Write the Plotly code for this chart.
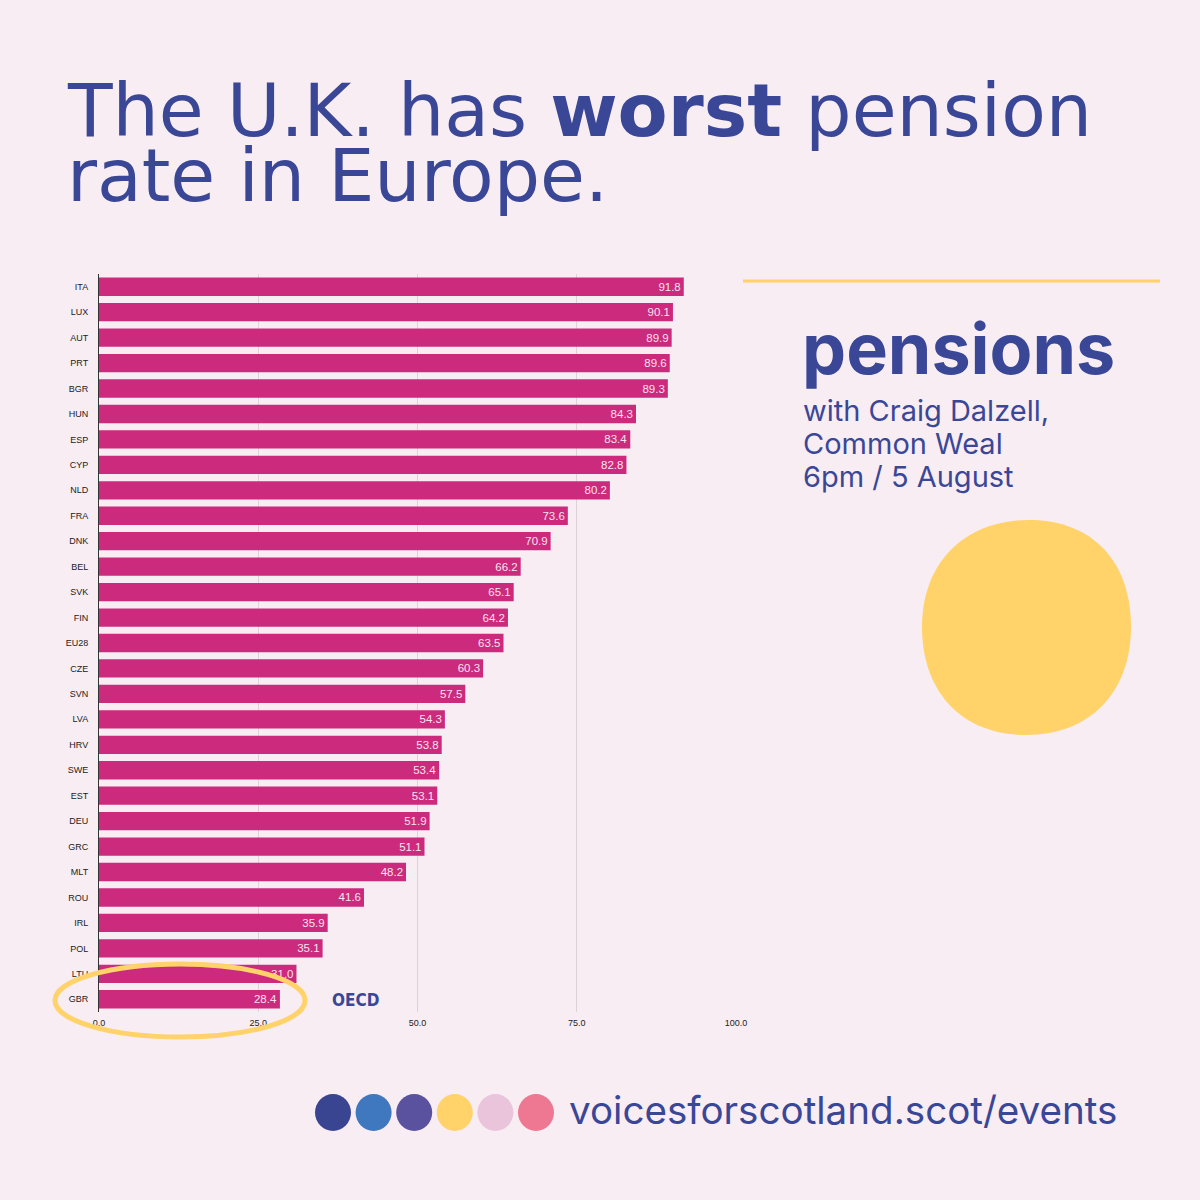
import plotly.graph_objects as go

# data
countries = ["ITA", "LUX", "AUT", "PRT", "BGR", "HUN", "ESP", "CYP", "NLD", "FRA",
             "DNK", "BEL", "SVK", "FIN", "EU28", "CZE", "SVN", "LVA", "HRV", "SWE",
             "EST", "DEU", "GRC", "MLT", "ROU", "IRL", "POL", "LTU", "GBR"]
rates = [91.8, 90.1, 89.9, 89.6, 89.3, 84.3, 83.4, 82.8, 80.2, 73.6,
         70.9, 66.2, 65.1, 64.2, 63.5, 60.3, 57.5, 54.3, 53.8, 53.4,
         53.1, 51.9, 51.1, 48.2, 41.6, 35.9, 35.1, 31.0, 28.4]
x_ticks = [0, 25, 50, 75, 100]
dot_colors = ["#394591", "#3F78BE", "#5A519F", "#FFD26A", "#E9C4DB", "#EE7791"]

BG = "#F8EDF2"
BLUE = "#3A4797"
PINK = "#CB2A7D"
YELLOW = "#FFD26A"
W = H = 1200


def px(x):
    return x / W


def py(y):
    return 1 - y / H


fig = go.Figure()
fig.add_trace(go.Bar(
    x=rates, y=countries, orientation="h",
    marker=dict(color=PINK, line=dict(width=0)),
    width=0.72,
    text=[f"{v:.1f}" for v in rates],
    textposition="inside", insidetextanchor="end",
    textfont=dict(family="Liberation Sans", size=11.5, color="#FBE3EE"),
    hoverinfo="skip",
))

shapes = []
# yellow rule top right
shapes.append(dict(type="line", xref="paper", yref="paper",
                   x0=px(743), x1=px(1160), y0=py(281), y1=py(281),
                   line=dict(color=YELLOW, width=3)))
# blob
cx, cy, r = 1026, 627, 104
k = 0.62 * r
blob = (f"M {px(cx+3)},{py(cy-r-3)} "
        f"C {px(cx+3+k)},{py(cy-r-3)} {px(cx+r+1)},{py(cy-k)} {px(cx+r+1)},{py(cy)} "
        f"C {px(cx+r+1)},{py(cy+k)} {px(cx+k)},{py(cy+r+4)} {px(cx)},{py(cy+r+4)} "
        f"C {px(cx-k)},{py(cy+r+4)} {px(cx-r)},{py(cy+k)} {px(cx-r)},{py(cy)} "
        f"C {px(cx-r)},{py(cy-k)} {px(cx+3-k)},{py(cy-r-3)} {px(cx+3)},{py(cy-r-3)} Z")
shapes.append(dict(type="path", xref="paper", yref="paper", path=blob,
                   fillcolor=YELLOW, line=dict(width=0)))
# ellipse round GBR
shapes.append(dict(type="circle", xref="paper", yref="paper",
                   x0=px(55), x1=px(305), y0=py(964), y1=py(1037),
                   line=dict(color=YELLOW, width=5), layer="above"))
# footer dots
for i, c in enumerate(dot_colors):
    xc = 333 + i * 40.6
    shapes.append(dict(type="circle", xref="paper", yref="paper",
                       x0=px(xc - 18), x1=px(xc + 18), y0=py(1094), y1=py(1131),
                       fillcolor=c, line=dict(width=0)))

annotations = []


def note(text, x, y, size, family="Inter", color=BLUE, xanchor="left", **kw):
    annotations.append(dict(text=text, x=px(x), y=py(y), xref="paper", yref="paper",
                            xanchor=xanchor, yanchor="middle", showarrow=False,
                            font=dict(family=family, size=size, color=color), **kw))


note("The U.K. has <b>worst</b> pension", 65, 110, 73, family="DejaVu Sans")
note("rate in Europe.", 65, 175, 73, family="DejaVu Sans")
note("<b>pensions</b>", 800, 348, 70)
note("with Craig Dalzell,", 801, 410, 29)
note("Common Weal", 801, 443, 29)
note("6pm / 5 August", 801, 477, 29)
note("voicesforscotland.scot/events", 567, 1110, 38.6)
note("<b>OECD</b>", 355, 1000, 17, family="DejaVu Sans Condensed, Roboto", xanchor="center")

fig.update_layout(
    template="none",
    width=W, height=H, autosize=False,
    paper_bgcolor=BG, plot_bgcolor=BG,
    margin=dict(l=0, r=0, t=0, b=0, pad=0),
    showlegend=False,
    bargap=0.28,
    shapes=shapes,
    annotations=annotations,
    xaxis=dict(domain=[px(99), px(736)], range=[0, 100], automargin=False,
               tickvals=x_ticks, ticktext=[f"{v:.1f}" for v in x_ticks],
               showgrid=True, gridcolor="#DCD3D8", gridwidth=1,
               zeroline=False, showline=False, ticks="",
               ticklabelstandoff=4,
               tickfont=dict(family="Liberation Sans", size=9, color="#222222")),
    yaxis=dict(domain=[py(1012), py(274)], categoryorder="array", automargin=False,
               categoryarray=countries, autorange="reversed",
               showgrid=False, zeroline=False,
               showline=True, linecolor="#333333", linewidth=1, ticks="",
               ticklabelstandoff=8,
               tickfont=dict(family="Liberation Sans", size=9, color="#222222")),
)

# drop the page margin / scrollbars so the figure sits flush in the window
fig.write_html(
    "out.html",
    config={"displayModeBar": False, "responsive": False},
    post_script=("document.body.style.margin='0';"
                 "document.body.style.overflow='hidden';"
                 "document.documentElement.style.overflow='hidden';"),
)
